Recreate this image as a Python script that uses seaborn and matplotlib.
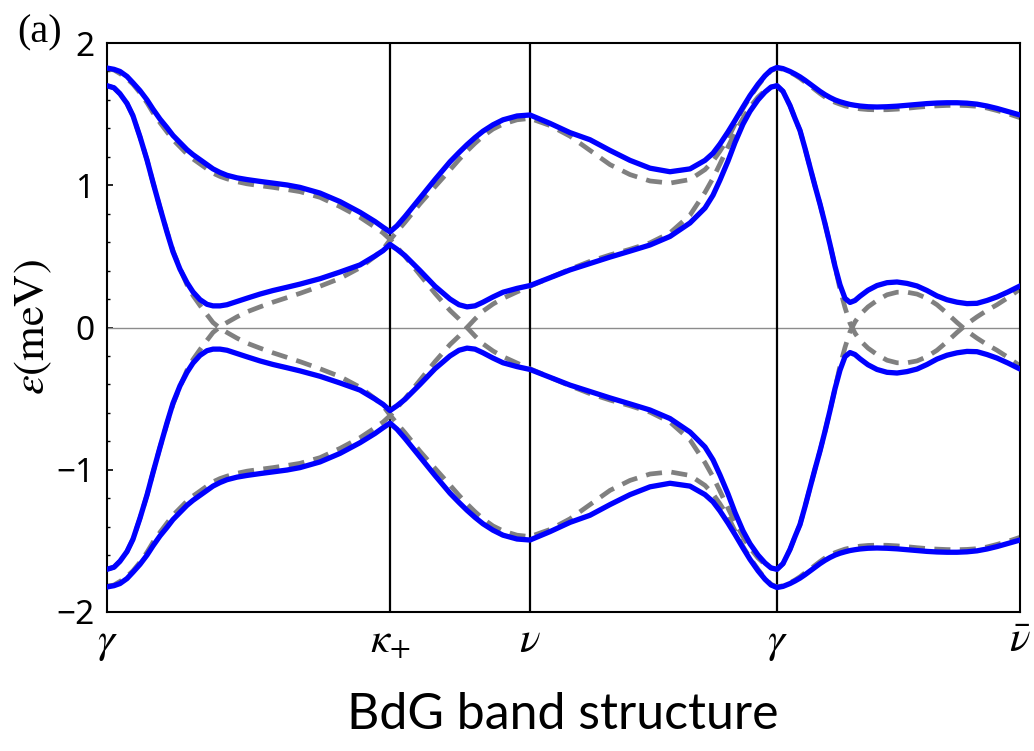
import matplotlib
matplotlib.use("Agg")
import matplotlib.pyplot as plt
import pandas as pd
import seaborn as sns
from matplotlib.ticker import MultipleLocator

# Path coordinate along gamma -> kappa+ -> nu -> gamma -> nu-bar
path_pos = [0, 7, 13, 20, 26, 33, 40, 46, 53, 60,
            66, 73, 80, 86, 93, 100, 106, 113, 120, 130,
            140, 153, 166, 180, 193, 213, 233, 253, 268, 276,
            283, 290, 298, 313, 328, 343, 352, 360, 368, 376,
            386, 396, 410, 423, 443, 463, 483, 503, 523, 543,
            563, 583, 598, 606, 613, 621, 628, 636, 643, 651,
            658, 664, 670, 676, 683, 688, 693, 698, 703, 708,
            713, 718, 723, 728, 733, 738, 743, 748, 753, 761,
            770, 780, 790, 800, 810, 820, 830, 840, 850, 860,
            870, 880, 890, 901, 913]

sym_pos = [0, 283, 423, 670, 913]
sym_labels = [r"$\gamma$", r"$\kappa_{+}$", r"$\nu$", r"$\gamma$", r"$\bar{\nu}$"]

# BdG quasiparticle bands (meV)
bdg_outer_up = [1.824, 1.815, 1.80, 1.765, 1.72, 1.665, 1.60, 1.535, 1.465, 1.405,
                1.35, 1.30, 1.25, 1.215, 1.18, 1.145, 1.115, 1.09, 1.07, 1.052,
                1.04, 1.027, 1.015, 1.002, 0.985, 0.945, 0.885, 0.81, 0.745, 0.705,
                0.672, 0.715, 0.78, 0.91, 1.04, 1.165, 1.23, 1.285, 1.335, 1.38,
                1.425, 1.46, 1.487, 1.494, 1.435, 1.37, 1.32, 1.245, 1.175, 1.12,
                1.095, 1.115, 1.175, 1.225, 1.29, 1.375, 1.455, 1.55, 1.63, 1.71,
                1.77, 1.81, 1.828, 1.82, 1.80, 1.782, 1.762, 1.738, 1.712, 1.686,
                1.66, 1.637, 1.617, 1.60, 1.587, 1.577, 1.568, 1.562, 1.557, 1.552,
                1.55, 1.552, 1.556, 1.562, 1.568, 1.574, 1.578, 1.58, 1.58, 1.577,
                1.57, 1.557, 1.54, 1.518, 1.494]
bdg_inner_up = [1.70, 1.685, 1.643, 1.575, 1.488, 1.34, 1.178, 1.02, 0.842, 0.67,
                0.532, 0.41, 0.315, 0.25, 0.196, 0.163, 0.152, 0.152, 0.16, 0.183,
                0.206, 0.235, 0.26, 0.283, 0.305, 0.343, 0.39, 0.44, 0.503, 0.54,
                0.584, 0.55, 0.505, 0.40, 0.29, 0.20, 0.16, 0.145, 0.152, 0.178,
                0.215, 0.248, 0.275, 0.295, 0.35, 0.405, 0.45, 0.495, 0.537, 0.58,
                0.64, 0.735, 0.84, 0.93, 1.037, 1.17, 1.30, 1.43, 1.52, 1.60,
                1.655, 1.69, 1.70, 1.66, 1.56, 1.47, 1.385, 1.26, 1.127, 0.995,
                0.868, 0.73, 0.584, 0.43, 0.30, 0.205, 0.176, 0.19, 0.22, 0.262,
                0.295, 0.315, 0.32, 0.31, 0.292, 0.26, 0.222, 0.195, 0.178, 0.168,
                0.17, 0.19, 0.215, 0.25, 0.292]
bdg_inner_dn = [-1.70, -1.685, -1.643, -1.575, -1.488, -1.34, -1.178, -1.02, -0.842, -0.67,
                -0.532, -0.41, -0.315, -0.25, -0.196, -0.163, -0.152, -0.152, -0.16, -0.183,
                -0.206, -0.235, -0.26, -0.283, -0.305, -0.343, -0.39, -0.44, -0.503, -0.54,
                -0.584, -0.55, -0.505, -0.40, -0.29, -0.20, -0.16, -0.145, -0.152, -0.178,
                -0.215, -0.248, -0.275, -0.295, -0.35, -0.405, -0.45, -0.495, -0.537, -0.58,
                -0.64, -0.735, -0.84, -0.93, -1.037, -1.17, -1.30, -1.43, -1.52, -1.60,
                -1.655, -1.69, -1.70, -1.66, -1.56, -1.47, -1.385, -1.26, -1.127, -0.995,
                -0.868, -0.73, -0.584, -0.43, -0.30, -0.205, -0.176, -0.19, -0.22, -0.262,
                -0.295, -0.315, -0.32, -0.31, -0.292, -0.26, -0.222, -0.195, -0.178, -0.168,
                -0.17, -0.19, -0.215, -0.25, -0.292]
bdg_outer_dn = [-1.824, -1.815, -1.80, -1.765, -1.72, -1.665, -1.60, -1.535, -1.465, -1.405,
                -1.35, -1.30, -1.25, -1.215, -1.18, -1.145, -1.115, -1.09, -1.07, -1.052,
                -1.04, -1.027, -1.015, -1.002, -0.985, -0.945, -0.885, -0.81, -0.745, -0.705,
                -0.672, -0.715, -0.78, -0.91, -1.04, -1.165, -1.23, -1.285, -1.335, -1.38,
                -1.425, -1.46, -1.487, -1.494, -1.435, -1.37, -1.32, -1.245, -1.175, -1.12,
                -1.095, -1.115, -1.175, -1.225, -1.29, -1.375, -1.455, -1.55, -1.63, -1.71,
                -1.77, -1.81, -1.828, -1.82, -1.80, -1.782, -1.762, -1.738, -1.712, -1.686,
                -1.66, -1.637, -1.617, -1.60, -1.587, -1.577, -1.568, -1.562, -1.557, -1.552,
                -1.55, -1.552, -1.556, -1.562, -1.568, -1.574, -1.578, -1.58, -1.58, -1.577,
                -1.57, -1.557, -1.54, -1.518, -1.494]

# Normal-state (ungapped) bands: electron branches and their hole partners
normal_a = [1.82, 1.81, 1.785, 1.75, 1.71, 1.65, 1.58, 1.51, 1.44, 1.375,
            1.32, 1.27, 1.22, 1.185, 1.15, 1.115, 1.085, 1.062, 1.045, 1.025,
            1.01, 0.997, 0.985, 0.97, 0.955, 0.915, 0.85, 0.775, 0.705, 0.665,
            0.62, 0.565, 0.50, 0.37, 0.24, 0.12, 0.06, 0.0, -0.06, -0.115,
            -0.165, -0.205, -0.25, -0.29, -0.35, -0.41, -0.465, -0.51, -0.55, -0.595,
            -0.665, -0.79, -0.95, -1.05, -1.15, -1.27, -1.37, -1.47, -1.55, -1.62,
            -1.665, -1.69, -1.70, -1.66, -1.56, -1.47, -1.385, -1.26, -1.127, -0.995,
            -0.868, -0.73, -0.584, -0.43, -0.27, -0.14, -0.03, 0.04, 0.09, 0.145,
            0.19, 0.23, 0.248, 0.248, 0.235, 0.205, 0.16, 0.10, 0.035, -0.025,
            -0.075, -0.12, -0.16, -0.21, -0.27]
normal_a_hole = [-1.82, -1.81, -1.785, -1.75, -1.71, -1.65, -1.58, -1.51, -1.44, -1.375,
                 -1.32, -1.27, -1.22, -1.185, -1.15, -1.115, -1.085, -1.062, -1.045, -1.025,
                 -1.01, -0.997, -0.985, -0.97, -0.955, -0.915, -0.85, -0.775, -0.705, -0.665,
                 -0.62, -0.565, -0.50, -0.37, -0.24, -0.12, -0.06, 0.0, 0.06, 0.115,
                 0.165, 0.205, 0.25, 0.29, 0.35, 0.41, 0.465, 0.51, 0.55, 0.595,
                 0.665, 0.79, 0.95, 1.05, 1.15, 1.27, 1.37, 1.47, 1.55, 1.62,
                 1.665, 1.69, 1.70, 1.66, 1.56, 1.47, 1.385, 1.26, 1.127, 0.995,
                 0.868, 0.73, 0.584, 0.43, 0.27, 0.14, 0.03, -0.04, -0.09, -0.145,
                 -0.19, -0.23, -0.248, -0.248, -0.235, -0.205, -0.16, -0.10, -0.035, 0.025,
                 0.075, 0.12, 0.16, 0.21, 0.27]
normal_b = [1.70, 1.685, 1.643, 1.575, 1.488, 1.34, 1.178, 1.02, 0.842, 0.675,
            0.54, 0.415, 0.30, 0.225, 0.155, 0.09, 0.035, -0.005, -0.035, -0.075,
            -0.11, -0.145, -0.178, -0.21, -0.24, -0.29, -0.345, -0.42, -0.50, -0.55,
            -0.615, -0.675, -0.74, -0.87, -0.99, -1.108, -1.18, -1.24, -1.295, -1.345,
            -1.395, -1.43, -1.46, -1.47, -1.42, -1.345, -1.245, -1.145, -1.075, -1.03,
            -1.015, -1.04, -1.11, -1.17, -1.24, -1.33, -1.43, -1.54, -1.62, -1.70,
            -1.765, -1.805, -1.824, -1.815, -1.795, -1.775, -1.752, -1.725, -1.70, -1.672,
            -1.645, -1.62, -1.60, -1.583, -1.57, -1.558, -1.55, -1.543, -1.537, -1.532,
            -1.53, -1.531, -1.535, -1.541, -1.548, -1.554, -1.558, -1.561, -1.562, -1.56,
            -1.555, -1.543, -1.525, -1.503, -1.475]
normal_b_hole = [-1.70, -1.685, -1.643, -1.575, -1.488, -1.34, -1.178, -1.02, -0.842, -0.675,
                 -0.54, -0.415, -0.30, -0.225, -0.155, -0.09, -0.035, 0.005, 0.035, 0.075,
                 0.11, 0.145, 0.178, 0.21, 0.24, 0.29, 0.345, 0.42, 0.50, 0.55,
                 0.615, 0.675, 0.74, 0.87, 0.99, 1.108, 1.18, 1.24, 1.295, 1.345,
                 1.395, 1.43, 1.46, 1.47, 1.42, 1.345, 1.245, 1.145, 1.075, 1.03,
                 1.015, 1.04, 1.11, 1.17, 1.24, 1.33, 1.43, 1.54, 1.62, 1.70,
                 1.765, 1.805, 1.824, 1.815, 1.795, 1.775, 1.752, 1.725, 1.70, 1.672,
                 1.645, 1.62, 1.60, 1.583, 1.57, 1.558, 1.55, 1.543, 1.537, 1.532,
                 1.53, 1.531, 1.535, 1.541, 1.548, 1.554, 1.558, 1.561, 1.562, 1.56,
                 1.555, 1.543, 1.525, 1.503, 1.475]

bdg_bands = {"outer_up": bdg_outer_up, "inner_up": bdg_inner_up,
             "inner_dn": bdg_inner_dn, "outer_dn": bdg_outer_dn}
normal_bands = {"a": normal_a, "a_hole": normal_a_hole,
                "b": normal_b, "b_hole": normal_b_hole}

sns.set_theme(style="white")
plt.rcParams["mathtext.fontset"] = "stix"
plt.rcParams["font.family"] = ["Noto Sans", "DejaVu Sans"]
plt.rcParams["text.color"] = "black"
plt.rcParams["axes.labelcolor"] = "black"

fig = plt.figure(figsize=(10.34, 7.51), dpi=100)
ax = fig.add_axes([107 / 1034, 1 - 612 / 751, 913 / 1034, 569 / 751])

# Fermi level and high-symmetry markers
ax.axhline(0, color="#8c8c8c", lw=1.0, zorder=1)
for xv in sym_pos[1:-1]:
    ax.axvline(xv, color="black", lw=1.6, zorder=1)

for name, vals in normal_bands.items():
    df = pd.DataFrame({"k": path_pos, "E": vals})
    sns.lineplot(data=df, x="k", y="E", ax=ax, sort=False, estimator=None,
                 color="#808080", lw=3.4, linestyle=(0, (3.4, 2.0)), zorder=2)

for name, vals in bdg_bands.items():
    df = pd.DataFrame({"k": path_pos, "E": vals})
    sns.lineplot(data=df, x="k", y="E", ax=ax, sort=False, estimator=None,
                 color="#0000ff", lw=3.8, zorder=3,
                 solid_joinstyle="round", solid_capstyle="round")

ax.set_xlim(0, 913)
ax.set_ylim(-2, 2)

ax.set_xticks(sym_pos)
ax.set_xticklabels(sym_labels, fontsize=31)
ax.tick_params(axis="x", length=0, pad=5, colors="black")

ax.set_yticks([-2, -1, 0, 1, 2])
ax.yaxis.set_minor_locator(MultipleLocator(0.2))
ax.set_yticklabels(["\u22122", "\u22121", "0", "1", "2"], fontsize=24)
ax.tick_params(axis="y", which="major", direction="in", length=4.5, width=1.2,
               left=True, right=False, pad=9, colors="black")
ax.tick_params(axis="y", which="minor", direction="in", length=2.5, width=1.0,
               left=True, right=False, colors="black")

for sp in ax.spines.values():
    sp.set_color("black")
    sp.set_linewidth(1.5)

ax.set_xlabel("")
ax.set_ylabel(r"$\varepsilon\mathrm{(meV)}$", fontsize=32, labelpad=1)

fig.text(40 / 1034, 1 - 33 / 751, "(a)", fontsize=29, family="Liberation Serif",
         ha="center", va="center", color="black")
fig.text(563 / 1034, 1 - 715 / 751, "BdG band structure", fontsize=36,
         family="Lato", ha="center", va="center", color="black")

fig.savefig("out.png", dpi=100)
